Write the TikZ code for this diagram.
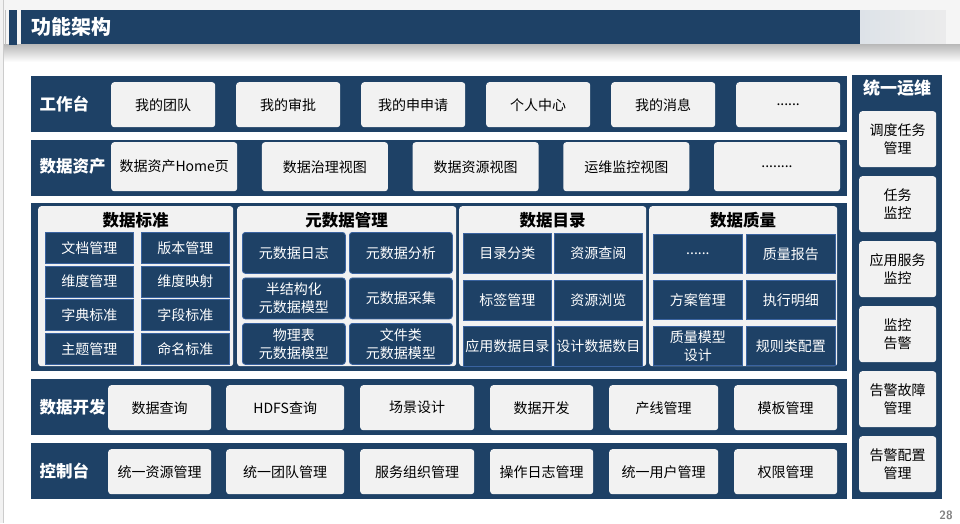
\documentclass[tikz,border=0pt]{standalone}
\usepackage{fontspec}
\newfontfamily\cjk{Noto Sans CJK SC}
\definecolor{navy}{HTML}{1E4166}
\definecolor{boxgray}{HTML}{F2F2F2}
\definecolor{subedge}{HTML}{3A63A0}
\newcommand{\sixdots}{......}
\newcommand{\eightdots}{........}

\tikzset{
  item/.style={fill=boxgray, rounded corners=3pt, anchor=north west, inner sep=0pt,
    align=center, font=\cjk\fontsize{14}{18}\selectfont},
  subitem/.style={fill=navy, draw=subedge, line width=0.8pt, anchor=north west, inner sep=0pt,
    align=center, text=white, font=\cjk\fontsize{14}{18}\selectfont},
  rowlabel/.style={anchor=west, text=white, font=\cjk\bfseries\fontsize{16.5}{20}\selectfont},
  paneltitle/.style={font=\cjk\bfseries\fontsize{16.5}{20}\selectfont},
}

\begin{document}
\begin{tikzpicture}[x=1pt,y=-1pt]
\useasboundingbox (0,0) rectangle (960,523);

% heading, its shadow and fade done in strips
\fill[gray!8] (0,0) rectangle (960,44);
\foreach \k in {0,...,17} {
  \pgfmathsetmacro\g{28*(1-\k/18)}
  \fill[black!\g!white] (0,{44+\k}) rectangle (960,{45.2+\k});
}
\fill[gray!10] (0,0) rectangle (3,523);
\draw[gray!40] (3,0) -- (3,523);
\fill[gray!50] (5,10) rectangle (6,45);
\fill[navy] (9,10) rectangle (17,45);
\fill[navy] (21,10) rectangle (860,44);
\foreach \k in {0,...,16} {
  \pgfmathsetmacro\g{100*(1-\k/17)}
  \fill[navy!\g!gray!15] ({860+5*\k},10) rectangle ({865.5+5*\k},44);
}
\node[anchor=west, text=white, font=\cjk\bfseries\fontsize{20}{24}\selectfont] (title) at (28,27) {功能架构};

% bands
\fill[navy] (31,76) rectangle (847,132);
\fill[navy] (31,140) rectangle (847,196);
\fill[navy] (31,203) rectangle (847,371);
\fill[navy] (31,379) rectangle (847,435);
\fill[navy] (31,443) rectangle (847,499);
\fill[navy] (852,75) rectangle (942,499);

\node[rowlabel] (lwork) at (36,104) {工作台};
\node[rowlabel] (lasset) at (36,166) {数据资产};
\node[rowlabel] (ldev) at (36,407) {数据开发};
\node[rowlabel] (lctrl) at (36,471) {控制台};

\foreach \t [count=\i] in {我的团队,我的审批,我的申申请,个人中心,我的消息,\sixdots}
  \node[item, minimum width=104, minimum height=45] (work\i) at ({111+125*(\i-1)},82) {\t};

\foreach \t [count=\i] in {数据资产Home页,数据治理视图,数据资源视图,运维监控视图,\eightdots}
  \node[item, minimum width=126, minimum height=49] (asset\i) at ({111+150.7*(\i-1)},142) {\t};

\foreach \x/\w/\t [count=\i] in {108/103/数据查询,226/118/HDFS查询,360/114/场景设计,490/103/数据开发,609/109/产线管理,734/103/模板管理}
  \node[item, minimum width=\w, minimum height=45] (dev\i) at (\x,385) {\t};

\foreach \x/\w/\t [count=\i] in {108/103/统一资源管理,226/118/统一团队管理,360/114/服务组织管理,490/103/操作日志管理,609/109/统一用户管理,734/103/权限管理}
  \node[item, minimum width=\w, minimum height=45] (ctrl\i) at (\x,449) {\t};

% panels
\foreach \x/\w/\t [count=\i] in {38/195/数据标准,237/219/元数据管理,459/187/数据目录,649/188/数据质量} {
  \node[fill=boxgray, rounded corners=3pt, anchor=north west, minimum width=\w, minimum height=160, inner sep=0pt] (panel\i) at (\x,206) {};
  \node[paneltitle] (ptitle\i) at ({\x+\w/2},220) {\t};
}

\foreach \t [count=\i from 0] in {文档管理,版本管理,维度管理,维度映射,字典标准,字段标准,主题管理,命名标准}
  \node[subitem, minimum width=88, minimum height=31] (std\i) at ({45+96*mod(\i,2)},{232+33.7*int(\i/2)}) {\t};

\foreach \t [count=\i from 0] in {元数据日志,元数据分析,{半结构化\\元数据模型},元数据采集,{物理表\\元数据模型},{文件类\\元数据模型}}
  \node[subitem, rounded corners=3pt, minimum width=103, minimum height=41] (meta\i) at ({242+107*mod(\i,2)},{232+45.5*int(\i/2)}) {\t};

\foreach \t [count=\i from 0] in {目录分类,资源查阅,标签管理,资源浏览,应用数据目录,设计数据数目}
  \node[subitem, minimum width=88, minimum height=40] (cat\i) at ({463+91*mod(\i,2)},{233+46.5*int(\i/2)}) {\t};

\foreach \t [count=\i from 0] in {\sixdots,质量报告,方案管理,执行明细,{质量模型\\设计},规则类配置}
  \node[subitem, minimum width=89, minimum height=39] (qual\i) at ({653+93*mod(\i,2)},{234+46*int(\i/2)}) {\t};

% right column
\node[text=white, font=\cjk\bfseries\fontsize{17}{20}\selectfont] (ops) at (897,88) {统一运维};
\foreach \t [count=\i] in {{调度任务\\管理},{任务\\监控},{应用服务\\监控},{监控\\告警},{告警故障\\管理},{告警配置\\管理}}
  \node[item, minimum width=77, minimum height=56] (op\i) at (859,{111+65*(\i-1)}) {\t};

\node[text=gray, font=\sffamily\bfseries\fontsize{12}{14}\selectfont] (page) at (946,515) {28};
\end{tikzpicture}
\end{document}
